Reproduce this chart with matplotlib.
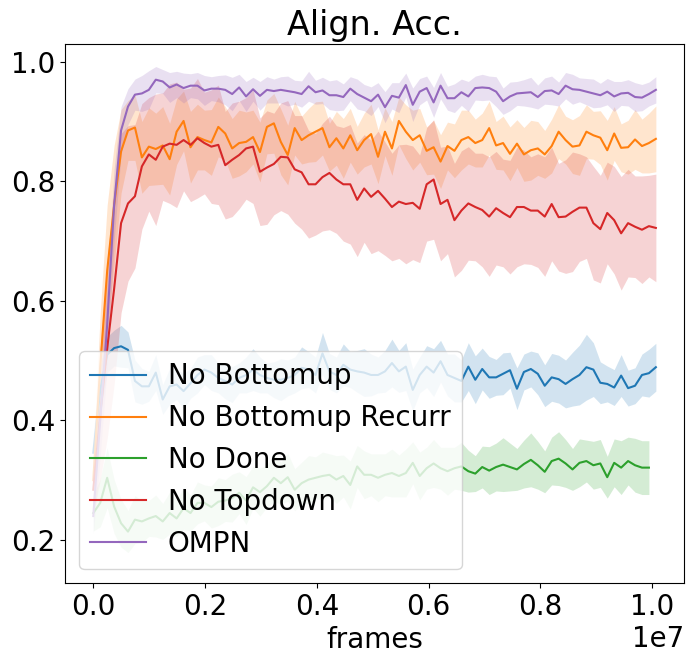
import numpy as np
import matplotlib
matplotlib.use("Agg")
import matplotlib.pyplot as plt

plt.rcParams['font.family'] = ['DejaVu Sans']
plt.rcParams['font.size'] = 20

N_POINTS = 82
FRAME_STEP = 124300
frames = np.arange(N_POINTS) * FRAME_STEP
frames_green = frames[:81]

labels = ["No Bottomup", "No Bottomup Recurr", "No Done", "No Topdown", "OMPN"]

no_bottomup_mean = [
    0.346, 0.451, 0.510, 0.521, 0.524, 0.518, 0.466, 0.457, 0.457, 0.480,
    0.435, 0.457, 0.460, 0.449, 0.462, 0.476, 0.485, 0.480, 0.471, 0.466,
    0.460, 0.471, 0.476, 0.485, 0.476, 0.471, 0.468, 0.468, 0.471, 0.476,
    0.488, 0.485, 0.476, 0.512, 0.482, 0.476, 0.493, 0.485, 0.482, 0.480,
    0.476, 0.476, 0.482, 0.496, 0.482, 0.490, 0.451, 0.476, 0.490, 0.480,
    0.499, 0.476, 0.471, 0.466, 0.490, 0.468, 0.486, 0.472, 0.472, 0.478,
    0.484, 0.453, 0.481, 0.486, 0.478, 0.458, 0.472, 0.469, 0.461, 0.469,
    0.476, 0.489, 0.485, 0.463, 0.461, 0.455, 0.475, 0.454, 0.458, 0.476,
    0.479, 0.489]
no_bottomup_std = [
    0.030, 0.040, 0.030, 0.030, 0.035, 0.030, 0.035, 0.030, 0.025, 0.030,
    0.025, 0.030, 0.025, 0.030, 0.025, 0.030, 0.025, 0.030, 0.025, 0.030,
    0.030, 0.025, 0.030, 0.035, 0.030, 0.025, 0.030, 0.035, 0.030, 0.030,
    0.035, 0.030, 0.030, 0.035, 0.030, 0.030, 0.035, 0.030, 0.035, 0.040,
    0.035, 0.030, 0.035, 0.040, 0.035, 0.040, 0.035, 0.030, 0.035, 0.040,
    0.035, 0.035, 0.040, 0.035, 0.040, 0.040, 0.035, 0.035, 0.030, 0.035,
    0.030, 0.035, 0.030, 0.030, 0.035, 0.035, 0.040, 0.040, 0.040, 0.045,
    0.050, 0.055, 0.045, 0.035, 0.030, 0.030, 0.035, 0.030, 0.030, 0.035,
    0.040, 0.040]

no_bottomup_recurr_mean = [
    0.300, 0.490, 0.650, 0.760, 0.850, 0.885, 0.890, 0.840, 0.858, 0.854,
    0.860, 0.837, 0.883, 0.901, 0.857, 0.874, 0.869, 0.865, 0.891, 0.880,
    0.855, 0.864, 0.866, 0.874, 0.849, 0.891, 0.897, 0.866, 0.844, 0.889,
    0.869, 0.877, 0.883, 0.889, 0.857, 0.872, 0.855, 0.877, 0.852, 0.869,
    0.879, 0.841, 0.883, 0.855, 0.901, 0.883, 0.869, 0.877, 0.851, 0.857,
    0.833, 0.859, 0.851, 0.869, 0.874, 0.864, 0.869, 0.889, 0.860, 0.864,
    0.846, 0.863, 0.845, 0.852, 0.855, 0.845, 0.859, 0.883, 0.869, 0.858,
    0.860, 0.883, 0.877, 0.873, 0.852, 0.880, 0.856, 0.857, 0.870, 0.859,
    0.864, 0.871]
no_bottomup_recurr_std = [
    0.040, 0.090, 0.110, 0.100, 0.070, 0.050, 0.055, 0.060, 0.065, 0.060,
    0.065, 0.060, 0.055, 0.050, 0.060, 0.055, 0.050, 0.055, 0.050, 0.045,
    0.050, 0.055, 0.050, 0.045, 0.050, 0.045, 0.050, 0.055, 0.050, 0.045,
    0.040, 0.045, 0.050, 0.045, 0.040, 0.045, 0.050, 0.045, 0.040, 0.045,
    0.050, 0.045, 0.040, 0.045, 0.040, 0.045, 0.050, 0.045, 0.040, 0.045,
    0.045, 0.040, 0.045, 0.050, 0.045, 0.040, 0.045, 0.045, 0.040, 0.045,
    0.045, 0.040, 0.045, 0.050, 0.045, 0.040, 0.045, 0.045, 0.040, 0.045,
    0.050, 0.045, 0.040, 0.045, 0.050, 0.045, 0.040, 0.045, 0.050, 0.045,
    0.050, 0.055]

no_done_mean = [
    0.245, 0.262, 0.304, 0.256, 0.228, 0.214, 0.234, 0.231, 0.236, 0.240,
    0.231, 0.245, 0.236, 0.253, 0.245, 0.262, 0.262, 0.255, 0.264, 0.266,
    0.270, 0.279, 0.266, 0.288, 0.280, 0.290, 0.304, 0.295, 0.305, 0.284,
    0.295, 0.301, 0.304, 0.307, 0.309, 0.301, 0.307, 0.292, 0.323, 0.309,
    0.309, 0.304, 0.309, 0.312, 0.307, 0.312, 0.329, 0.307, 0.320, 0.328,
    0.320, 0.315, 0.320, 0.323, 0.315, 0.311, 0.322, 0.316, 0.322, 0.326,
    0.322, 0.318, 0.327, 0.334, 0.325, 0.314, 0.332, 0.336, 0.328, 0.318,
    0.329, 0.332, 0.325, 0.328, 0.305, 0.329, 0.321, 0.332, 0.325, 0.321,
    0.321]
no_done_std = [
    0.030, 0.040, 0.050, 0.045, 0.040, 0.035, 0.040, 0.035, 0.030, 0.035,
    0.030, 0.035, 0.030, 0.035, 0.030, 0.035, 0.030, 0.035, 0.040, 0.035,
    0.040, 0.035, 0.040, 0.035, 0.040, 0.035, 0.040, 0.035, 0.040, 0.035,
    0.035, 0.040, 0.035, 0.040, 0.035, 0.040, 0.035, 0.040, 0.035, 0.040,
    0.035, 0.040, 0.035, 0.040, 0.035, 0.040, 0.035, 0.040, 0.035, 0.040,
    0.035, 0.040, 0.035, 0.040, 0.035, 0.030, 0.035, 0.040, 0.040, 0.045,
    0.040, 0.035, 0.040, 0.045, 0.040, 0.035, 0.040, 0.045, 0.040, 0.035,
    0.040, 0.035, 0.040, 0.040, 0.035, 0.040, 0.045, 0.040, 0.045, 0.045,
    0.045]

no_topdown_mean = [
    0.284, 0.410, 0.520, 0.620, 0.730, 0.763, 0.775, 0.825, 0.845, 0.836,
    0.858, 0.863, 0.861, 0.869, 0.861, 0.872, 0.864, 0.858, 0.861, 0.827,
    0.836, 0.844, 0.855, 0.858, 0.816, 0.823, 0.829, 0.841, 0.840, 0.820,
    0.815, 0.795, 0.795, 0.807, 0.814, 0.803, 0.795, 0.795, 0.769, 0.788,
    0.774, 0.784, 0.771, 0.757, 0.766, 0.762, 0.764, 0.754, 0.795, 0.803,
    0.762, 0.769, 0.735, 0.751, 0.763, 0.757, 0.752, 0.741, 0.755, 0.747,
    0.740, 0.757, 0.757, 0.751, 0.751, 0.741, 0.762, 0.740, 0.741, 0.749,
    0.756, 0.756, 0.730, 0.720, 0.747, 0.735, 0.713, 0.730, 0.724, 0.719,
    0.725, 0.722]
no_topdown_std = [
    0.040, 0.110, 0.150, 0.160, 0.150, 0.130, 0.120, 0.105, 0.095, 0.110,
    0.090, 0.100, 0.105, 0.085, 0.095, 0.100, 0.085, 0.095, 0.100, 0.090,
    0.095, 0.090, 0.085, 0.095, 0.090, 0.095, 0.085, 0.090, 0.095, 0.090,
    0.095, 0.090, 0.085, 0.090, 0.095, 0.090, 0.095, 0.100, 0.095, 0.090,
    0.095, 0.100, 0.095, 0.090, 0.095, 0.100, 0.095, 0.090, 0.095, 0.100,
    0.095, 0.090, 0.095, 0.100, 0.095, 0.090, 0.095, 0.100, 0.095, 0.090,
    0.095, 0.100, 0.095, 0.090, 0.095, 0.100, 0.095, 0.090, 0.095, 0.100,
    0.090, 0.085, 0.095, 0.090, 0.085, 0.090, 0.095, 0.090, 0.085, 0.090,
    0.085, 0.090]

ompn_mean = [
    0.240, 0.400, 0.560, 0.760, 0.885, 0.925, 0.945, 0.947, 0.953, 0.970,
    0.967, 0.957, 0.962, 0.956, 0.960, 0.960, 0.952, 0.955, 0.955, 0.953,
    0.946, 0.957, 0.942, 0.954, 0.943, 0.953, 0.951, 0.953, 0.951, 0.949,
    0.946, 0.959, 0.949, 0.952, 0.944, 0.944, 0.941, 0.955, 0.946, 0.940,
    0.934, 0.945, 0.924, 0.943, 0.940, 0.961, 0.928, 0.950, 0.956, 0.932,
    0.960, 0.939, 0.939, 0.949, 0.942, 0.956, 0.957, 0.956, 0.950, 0.934,
    0.942, 0.947, 0.948, 0.949, 0.941, 0.951, 0.952, 0.946, 0.960, 0.954,
    0.953, 0.950, 0.947, 0.944, 0.950, 0.942, 0.947, 0.948, 0.941, 0.940,
    0.946, 0.953]
ompn_std = [
    0.030, 0.060, 0.070, 0.060, 0.040, 0.030, 0.026, 0.030, 0.032, 0.022,
    0.020, 0.025, 0.022, 0.025, 0.020, 0.022, 0.025, 0.020, 0.022, 0.025,
    0.028, 0.022, 0.025, 0.020, 0.024, 0.022, 0.020, 0.022, 0.025, 0.020,
    0.022, 0.025, 0.020, 0.022, 0.024, 0.026, 0.022, 0.020, 0.025, 0.022,
    0.024, 0.020, 0.026, 0.022, 0.025, 0.020, 0.028, 0.022, 0.020, 0.025,
    0.022, 0.020, 0.024, 0.022, 0.025, 0.020, 0.022, 0.020, 0.025, 0.022,
    0.024, 0.020, 0.022, 0.025, 0.020, 0.022, 0.024, 0.020, 0.022, 0.025,
    0.020, 0.022, 0.024, 0.020, 0.022, 0.025, 0.020, 0.022, 0.024, 0.022,
    0.020, 0.022]

series = [
    (frames, no_bottomup_mean, no_bottomup_std),
    (frames, no_bottomup_recurr_mean, no_bottomup_recurr_std),
    (frames_green, no_done_mean, no_done_std),
    (frames, no_topdown_mean, no_topdown_std),
    (frames, ompn_mean, ompn_std),
]
colors = ['tab:blue', 'tab:orange', 'tab:green', 'tab:red', 'tab:purple']

fig = plt.figure(figsize=(6.93, 6.64), dpi=100)
ax = fig.add_axes([0.094, 0.122, 0.893, 0.812])

for (x, m, s), lab, c in zip(series, labels, colors):
    m = np.asarray(m)
    s = np.asarray(s)
    ax.plot(x, m, color=c, label=lab, linewidth=1.5)
    ax.fill_between(x, m - s, m + s, color=c, alpha=0.2, linewidth=0)

ax.set_ylim(0.128, 1.030)
ax.set_xlabel('frames')
ax.set_title('Align. Acc.', fontsize=24)
ax.legend(loc='lower left', fontsize=20)

fig.savefig('out.png', dpi=100)
